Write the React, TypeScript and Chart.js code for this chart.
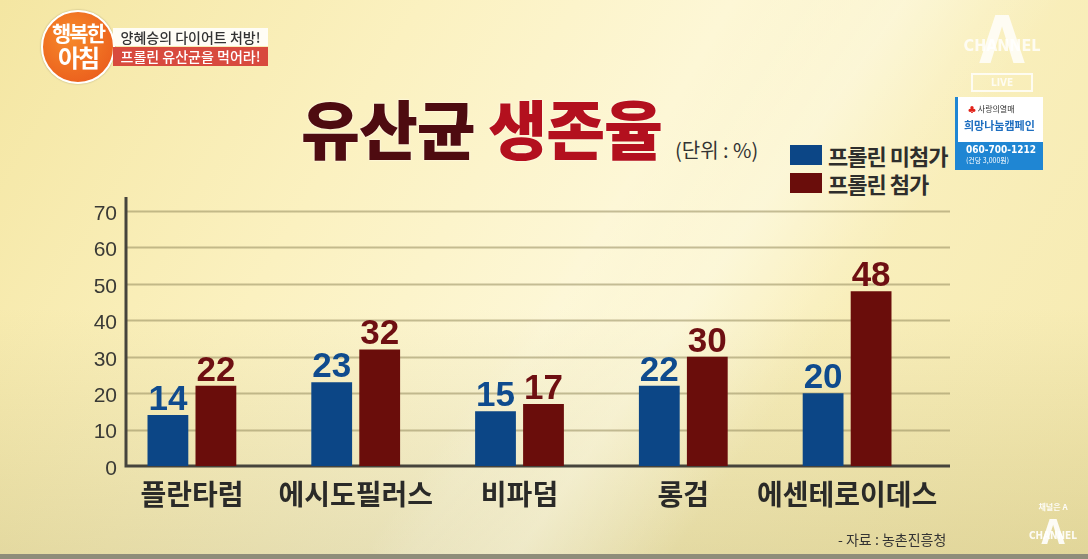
import React, { useEffect, useRef } from "react";
import { Chart, registerables } from "chart.js";

Chart.register(...registerables);

// ---- data ----
const categories = ["플란타럼", "에시도필러스", "비파덤", "롱검", "에센테로이데스"];
const seriesNames = ["프롤린 미첨가", "프롤린 첨가"];
const withoutProline = [14, 23, 15, 22, 20];
const withProline = [22, 32, 17, 30, 48];
const yMin = 0;
const yMax = 70;
const yStep = 10;

const seriesColors = ["#0c4686", "#6a0d0b"];
const valueColors = ["#0f4b8e", "#6e0f12"];
const KR = '"Noto Sans CJK KR", "Noto Sans", sans-serif';
const NUM = '"Liberation Sans", Arial, sans-serif';

const gridPlugin = {
  id: "customGrid",
  beforeDatasetsDraw(chart: any) {
    const { ctx, chartArea, scales } = chart;
    const y = scales.y;
    const left = chartArea.left + 16;
    const right = chartArea.right + 21;
    ctx.save();
    ctx.strokeStyle = "rgba(150,140,95,0.55)";
    ctx.lineWidth = 2;
    y.ticks.forEach((t: any) => {
      if (t.value === yMin) return;
      const py = Math.round(y.getPixelForValue(t.value)) + 0.5;
      ctx.beginPath();
      ctx.moveTo(left, py);
      ctx.lineTo(right, py);
      ctx.stroke();
    });
    // tick labels
    ctx.fillStyle = "#3a3a36";
    ctx.font = "21px " + NUM;
    ctx.textAlign = "right";
    ctx.textBaseline = "middle";
    y.ticks.forEach((t: any) => {
      const py = y.getPixelForValue(t.value) + 3;
      ctx.fillText(String(t.label), left - 9, py);
    });
    ctx.strokeStyle = "#46443c";
    ctx.lineWidth = 3;
    const base = y.getPixelForValue(yMin);
    ctx.beginPath();
    ctx.moveTo(left, chartArea.top - 14);
    ctx.lineTo(left, base);
    ctx.lineTo(right, base);
    ctx.stroke();
    ctx.restore();
  },
};

const valueLabelPlugin = {
  id: "valueLabels",
  afterDatasetsDraw(chart: any) {
    const { ctx } = chart;
    ctx.save();
    ctx.font = "bold 35px " + NUM;
    ctx.textAlign = "center";
    ctx.textBaseline = "alphabetic";
    chart.data.datasets.forEach((ds: any, di: number) => {
      const meta = chart.getDatasetMeta(di);
      meta.data.forEach((bar: any, i: number) => {
        ctx.fillStyle = valueColors[di];
        ctx.fillText(String(ds.data[i]), bar.x, bar.y - 5);
      });
    });
    ctx.restore();
  },
};

function ChartCanvas() {
  const ref = useRef<HTMLCanvasElement | null>(null);
  useEffect(() => {
    if (!ref.current) return;
    const chart = new Chart(ref.current, {
      type: "bar",
      data: {
        labels: categories,
        datasets: [
          {
            label: seriesNames[0],
            data: withoutProline,
            backgroundColor: seriesColors[0],
            borderWidth: 0,
            categoryPercentage: 0.586,
            barPercentage: 0.85,
          },
          {
            label: seriesNames[1],
            data: withProline,
            backgroundColor: seriesColors[1],
            borderWidth: 0,
            categoryPercentage: 0.586,
            barPercentage: 0.85,
          },
        ],
      },
      options: {
        responsive: false,
        maintainAspectRatio: false,
        animation: false,
        layout: { padding: { left: 0, right: 159, top: 211, bottom: 0 } },
        plugins: { legend: { display: false }, tooltip: { enabled: false } },
        scales: {
          x: {
            grid: { display: false, drawTicks: false },
            border: { display: false },
            ticks: {
              color: "#2a2a28",
              font: { family: KR, size: 28, weight: "bold" },
              padding: 12,
              maxRotation: 0,
              autoSkip: false,
            },
            afterFit: (s: any) => {
              s.height = 93;
            },
          },
          y: {
            min: yMin,
            max: yMax,
            grid: { display: false, drawTicks: false },
            border: { display: false },
            ticks: {
              stepSize: yStep,
              color: "rgba(0,0,0,0)",
              font: { family: NUM, size: 21 },
            },
            afterFit: (s: any) => {
              s.width = 110;
            },
          },
        },
      },
      plugins: [gridPlugin, valueLabelPlugin],
    });
    return () => chart.destroy();
  }, []);
  return (
    <canvas
      ref={ref}
      width={1088}
      height={559}
      style={{ position: "absolute", left: 0, top: 0, width: 1088, height: 559 }}
    />
  );
}

export default function App() {
  return (
    <div
      style={{
        position: "fixed",
        left: 0,
        top: 0,
        width: 1088,
        height: 559,
        overflow: "hidden",
        fontFamily: KR,
        background:
          "linear-gradient(180deg, rgba(255,255,255,0) 55%, rgba(150,140,70,0.22) 100%), linear-gradient(120deg, #f4e6a2 0%, #fbf1c0 30%, #fdf7d6 52%, #f9efbc 70%, #f6eab0 100%)",
      }}
    >
      {/* diagonal light streak */}
      <div
        style={{
          position: "absolute",
          left: 600,
          top: -200,
          width: 260,
          height: 900,
          transform: "rotate(35deg)",
          background: "linear-gradient(90deg, rgba(255,255,255,0), rgba(255,255,245,0.35), rgba(255,255,255,0))",
        }}
      />
      {/* bottom strip */}
      <div style={{ position: "absolute", left: 0, top: 554, width: 1088, height: 5, background: "#8f8d7a" }} />

      {/* title */}
      <div
        style={{
          position: "absolute",
          left: 301,
          top: 94,
          fontSize: 64,
          fontWeight: 900,
          letterSpacing: -1,
          lineHeight: 1,
          whiteSpace: "nowrap",
          textShadow: "0 0 2px #fffbe8, 0 0 2px #fffbe8",
        }}
      >
        <span style={{ color: "#4e0b10" }}>유산균</span>{" "}
        <span style={{ color: "#b3101e" }}>생존율</span>
      </div>
      <div
        style={{
          position: "absolute",
          left: 675,
          top: 140,
          fontSize: 20,
          color: "#333",
          whiteSpace: "pre",
          lineHeight: 1,
        }}
      >
        (단위 : %)
      </div>

      {/* legend */}
      {seriesNames.map((name, i) => (
        <div key={name} style={{ position: "absolute", left: 790, top: 144 + i * 28, height: 22, display: "flex", alignItems: "center" }}>
          <div style={{ width: 32, height: 20, background: seriesColors[i], marginRight: 6 }} />
          <div style={{ fontSize: 22, fontWeight: 700, color: "#2e2e2c", lineHeight: 1, whiteSpace: "nowrap", letterSpacing: -1 }}>
            {name}
          </div>
        </div>
      ))}

      <ChartCanvas />

      {/* source */}
      <div style={{ position: "absolute", left: 838, top: 532, fontSize: 14, color: "#333", whiteSpace: "pre", lineHeight: 1 }}>
        - 자료 : 농촌진흥청
      </div>

      {/* program logo */}
      <div
        style={{
          position: "absolute",
          left: 41,
          top: 10,
          width: 70,
          height: 70,
          borderRadius: "50%",
          background: "radial-gradient(circle at 40% 35%, #f78a2a, #e8541a)",
          border: "2px solid #fff",
          boxShadow: "0 0 2px rgba(0,0,0,0.3)",
          color: "#fff",
          textAlign: "center",
          fontWeight: 700,
          lineHeight: 1,
        }}
      >
        <div style={{ fontSize: 21, marginTop: 10, letterSpacing: -2 }}>행복한</div>
        <div style={{ fontSize: 24, marginTop: 2, letterSpacing: -2 }}>아침</div>
      </div>
      <div
        style={{
          position: "absolute",
          left: 113,
          top: 28,
          width: 155,
          height: 18,
          background: "#fffdf5",
          color: "#333",
          fontSize: 14,
          lineHeight: "18px",
          textAlign: "center",
          fontWeight: 500,
          whiteSpace: "nowrap",
        }}
      >
        양혜승의 다이어트 처방!
      </div>
      <div
        style={{
          position: "absolute",
          left: 113,
          top: 47,
          width: 155,
          height: 19,
          background: "#d84a3e",
          color: "#fff",
          fontSize: 14,
          lineHeight: "19px",
          textAlign: "center",
          fontWeight: 500,
          whiteSpace: "nowrap",
        }}
      >
        프롤린 유산균을 먹어라!
      </div>

      {/* channel logo top right */}
      <div style={{ position: "absolute", left: 962, top: 8, width: 80, height: 90, color: "rgba(255,255,255,0.8)", fontFamily: '"DejaVu Sans Condensed", sans-serif', fontWeight: 700 }}>
        <div style={{ position: "absolute", left: 0, top: 0, width: 80, textAlign: "center", fontSize: 66, lineHeight: 1 }}>Λ</div>
        <div style={{ position: "absolute", left: 0, top: 30, width: 80, textAlign: "center", fontSize: 16, lineHeight: 1 }}>CHANNEL</div>
        <div style={{ position: "absolute", left: 9, top: 65, width: 58, height: 15, border: "2px solid rgba(255,255,255,0.8)", fontSize: 10, lineHeight: "15px", textAlign: "center" }}>LIVE</div>
      </div>

      {/* donation box */}
      <div style={{ position: "absolute", left: 955, top: 97, width: 88, height: 73, background: "#ffffff", borderLeft: "3px solid #1f86d3", boxSizing: "border-box" }}>
        <div style={{ fontSize: 8, color: "#333", marginTop: 6, marginLeft: 10, whiteSpace: "nowrap" }}>
          <span style={{ color: "#e2231a" }}>♣</span> 사랑의열매
        </div>
        <div style={{ fontSize: 11, color: "#1f6fc0", fontWeight: 700, marginTop: 3, marginLeft: 6, whiteSpace: "nowrap" }}>희망나눔캠페인</div>
        <div style={{ position: "absolute", left: 0, top: 45, width: 85, height: 28, background: "#1f86d3", color: "#fff" }}>
          <div style={{ fontSize: 10, fontWeight: 700, marginLeft: 8, marginTop: 2, fontFamily: '"DejaVu Sans Condensed", sans-serif' }}>060-700-1212</div>
          <div style={{ fontSize: 7, marginLeft: 8 }}>(건당 3,000원)</div>
        </div>
      </div>

      {/* channel logo bottom right */}
      <div style={{ position: "absolute", left: 1025, top: 503, width: 56, height: 50, color: "rgba(255,255,255,0.9)", fontFamily: '"DejaVu Sans Condensed", sans-serif', fontWeight: 700 }}>
        <div style={{ position: "absolute", left: 0, top: 0, width: 56, textAlign: "center", fontSize: 8, lineHeight: 1, fontFamily: KR }}>채널은 A</div>
        <div style={{ position: "absolute", left: 0, top: 12, width: 56, textAlign: "center", fontSize: 34, lineHeight: 1 }}>Λ</div>
        <div style={{ position: "absolute", left: 0, top: 28, width: 56, textAlign: "center", fontSize: 10, lineHeight: 1 }}>CHANNEL</div>
      </div>
    </div>
  );
}
